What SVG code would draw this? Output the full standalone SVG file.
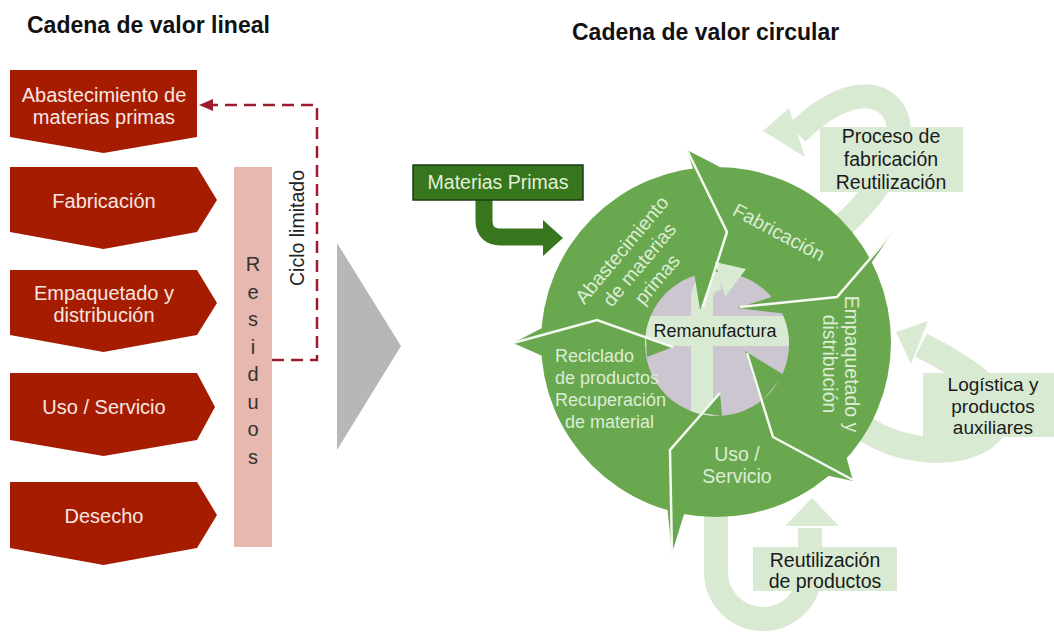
<svg xmlns="http://www.w3.org/2000/svg" width="1054" height="632" viewBox="0 0 1054 632">
<defs>
<style>
text{font-family:"Liberation Sans",Arial,sans-serif}
.title{font-size:23px;font-weight:bold;fill:#111}
.box{fill:#a61c00}
.bt{font-size:20px;fill:#f6e6e1;text-anchor:middle}
.res{font-size:20px;fill:#333;text-anchor:middle}
.lg{fill:#d9ead3}
.lgs{fill:none;stroke:#d9ead3}
.dk{font-size:19.5px;fill:#1a1a1a;text-anchor:middle}
.gt{font-size:19.5px;fill:#dcedd5;text-anchor:middle}
.gl{font-size:18px;fill:#dcedd5}
.sep{fill:none;stroke:#f4faf2;stroke-width:2.5;stroke-linejoin:miter}
.g{fill:#6aa84f}
</style>
<clipPath id="inner"><circle cx="717" cy="344" r="72"/></clipPath>
<marker id="ah" markerUnits="userSpaceOnUse" markerWidth="14" markerHeight="12" refX="13" refY="6" orient="auto">
<path d="M0,0 L14,6 L0,12 Z" fill="#9b1b30"/>
</marker>
</defs>
<rect width="1054" height="632" fill="#ffffff"/>

<g id="titles">
<text class="title" x="27" y="33">Cadena de valor lineal</text>
<text class="title" x="572" y="40">Cadena de valor circular</text>
</g>

<g id="lin-abastecimiento">
<path class="box" d="M10 70 H197 V137 L103.5 153 L10 137 Z"/>
<text class="bt" x="104" y="102">Abastecimiento de</text>
<text class="bt" x="104" y="124">materias primas</text>
</g>
<g id="lin-fabricacion">
<path class="box" d="M10 167 H197 L217 200 L197 232 L103.5 249 L10 232 Z"/>
<text class="bt" x="104" y="208">Fabricación</text>
</g>
<g id="lin-empaquetado">
<path class="box" d="M10 270 H197 L217 303 L197 335 L103.5 352 L10 335 Z"/>
<text class="bt" x="104" y="300">Empaquetado y</text>
<text class="bt" x="104" y="322">distribución</text>
</g>
<g id="lin-uso">
<path class="box" d="M10 373 H197 L215 407 L197 440 L103.5 456 L10 440 Z"/>
<text class="bt" x="104" y="414">Uso / Servicio</text>
</g>
<g id="lin-desecho">
<path class="box" d="M10 482 H197 L217 515 L197 548 L103.5 565 L10 548 Z"/>
<text class="bt" x="104" y="523">Desecho</text>
</g>

<g id="residuos">
<rect x="234" y="167" width="38" height="380" fill="#e6b8af"/>
<text class="res" x="253" y="271">R</text>
<text class="res" x="253" y="298.5">e</text>
<text class="res" x="253" y="326">s</text>
<text class="res" x="253" y="353.5">i</text>
<text class="res" x="253" y="381">d</text>
<text class="res" x="253" y="408.5">u</text>
<text class="res" x="253" y="436">o</text>
<text class="res" x="253" y="463.5">s</text>
</g>

<g id="transition">
<polygon points="337,243 401,346 337,450" fill="#b7b7b7"/>
</g>

<g id="connectors">
<path d="M272 360 H317 V105 H200" fill="none" stroke="#9b1b30" stroke-width="2.5" stroke-dasharray="12 7" marker-end="url(#ah)"/>
<text x="0" y="0" transform="translate(304,228) rotate(-90)" style="font-size:19.5px;fill:#222;text-anchor:middle">Ciclo limitado</text>
<path class="lgs" stroke-width="24" d="M843 225 C880 192 912 140 893 110 C872 82 830 100 797 133"/>
<polygon class="lg" points="763,131 789,108 805,157"/>
<path class="lgs" stroke-width="26" d="M860 425 C905 460 985 458 997 420 C1005 392 962 366 921 345"/>
<polygon class="lg" points="896,332 928,321 911,364"/>
<path class="lgs" stroke-width="24" d="M716 505 V572 A47 47 0 0 0 810 572 V528"/>
<polygon class="lg" points="812,498 785,526 839,526"/>
<path d="M484 199 V220 Q484 237 501 237 H546" fill="none" stroke="#38761d" stroke-width="17"/>
<polygon points="543,220 563,238 543,256" fill="#38761d"/>
</g>

<g id="proceso">
<rect class="lg" x="820" y="127" width="143" height="65"/>
<text class="dk" x="891" y="143">Proceso de</text>
<text class="dk" x="891" y="166">fabricación</text>
<text class="dk" x="891" y="189">Reutilización</text>
</g>
<g id="logistica">
<rect class="lg" x="923" y="373" width="131" height="64"/>
<text class="dk" x="993" y="391" style="font-size:19px">Logística y</text>
<text class="dk" x="993" y="413" style="font-size:19px">productos</text>
<text class="dk" x="993" y="434" style="font-size:19px">auxiliares</text>
</g>
<g id="reutilizacion">
<rect class="lg" x="753" y="547" width="144" height="44"/>
<text class="dk" x="825" y="567">Reutilización</text>
<text class="dk" x="825" y="588">de productos</text>
</g>

<g id="materias-primas">
<rect x="413" y="165" width="170" height="35" fill="#38761d" stroke="#1e3d10" stroke-width="1.5"/>
<text x="498" y="189" style="font-size:19.5px;fill:#e2f0da;text-anchor:middle">Materias Primas</text>
</g>

<g id="ciclo">
<circle class="g" cx="716" cy="342" r="175"/>
<polygon class="g" points="687,150 694,172 720,167"/>
<polygon class="g" points="893,232 850,284 872,262"/>
<polygon class="g" points="853,481 820,474 845,452"/>
<polygon class="g" points="672,553 667,505 686,508"/>
<polygon class="g" points="513,343 548,325 547,358"/>
</g>

<g id="remanufactura">
<circle cx="717" cy="344" r="72" fill="#cbc6d0"/>
<g clip-path="url(#inner)">
<rect class="lg" x="640" y="316" width="160" height="30"/>
<path class="lgs" stroke-width="22" d="M702 425 V300 Q702 281 720 279"/>
</g>
<polygon class="lg" points="746,269 725,297 715,262"/>
<polygon class="g" points="700,310 694,272 714,270"/>
<polygon class="g" points="737,308 775,296 788,314"/>
<polygon class="g" points="745,351 761,402 784,375"/>
<polygon class="g" points="720,393 701,413 722,416"/>
<polygon class="g" points="673,347 646,338 647,357"/>
<text x="715" y="337" style="font-size:18px;fill:#1a1a1a;text-anchor:middle">Remanufactura</text>
</g>

<g id="separadores">
<polyline class="sep" points="687,150 727,232 703,307"/>
<polyline class="sep" points="893,232 837,297 740,307"/>
<polyline class="sep" points="853,480 773,437 747,353"/>
<polyline class="sep" points="672,553 670,450 720,393"/>
<polyline class="sep" points="513,343 597,320 673,347"/>
</g>

<g id="seg-abastecimiento" transform="translate(640,265) rotate(-50)">
<text class="gt" x="0" y="-17">Abastecimiento</text>
<text class="gt" x="0" y="6">de materias</text>
<text class="gt" x="0" y="29">primas</text>
</g>
<g id="seg-fabricacion">
<text class="gt" x="0" y="7" transform="translate(779,232) rotate(28)">Fabricación</text>
</g>
<g id="seg-empaquetado" transform="translate(841,364) rotate(90)">
<text class="gt" x="0" y="-4">Empaquetado y</text>
<text class="gt" x="0" y="18">distribución</text>
</g>
<g id="seg-uso">
<text class="gt" x="737" y="461">Uso /</text>
<text class="gt" x="737" y="483">Servicio</text>
</g>
<g id="seg-reciclado">
<text class="gl" x="555" y="362">Reciclado</text>
<text class="gl" x="555" y="384">de productos</text>
<text class="gl" x="555" y="406">Recuperación</text>
<text class="gl" x="565" y="428">de material</text>
</g>
</svg>
